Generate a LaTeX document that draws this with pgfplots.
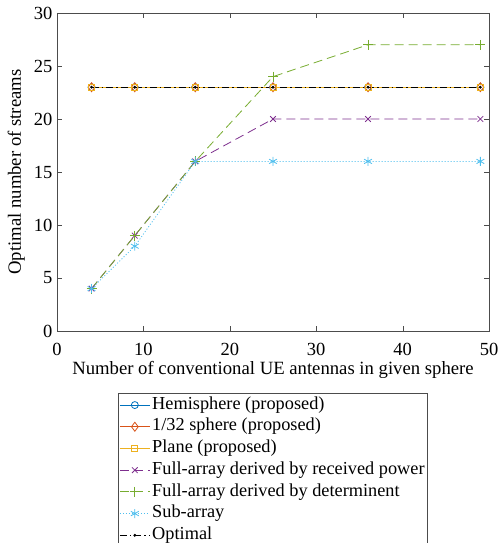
\documentclass[border=0pt]{standalone}
\usepackage{pgfplots}
\pgfplotsset{compat=1.18}
\usepackage{fontspec}
\setmainfont{Liberation Serif}
\definecolor{c1}{HTML}{0072BD}
\definecolor{c2}{HTML}{D95319}
\definecolor{c3}{HTML}{EDB120}
\definecolor{c4}{HTML}{7E2F8E}
\definecolor{c5}{HTML}{77AC30}
\definecolor{c6}{HTML}{4DBEEE}
\begin{document}
\begin{tikzpicture}
\begin{axis}[
  scale only axis, width=432pt, height=318pt,
  xmin=0, xmax=50, ymin=0, ymax=30,
  xtick={0,10,...,50}, ytick={0,5,...,30},
  tick align=inside, tick pos=both,
  major tick length=5pt,
  axis line style={draw=black!70, line width=0.6pt},
  tick style={draw=black!70},
  /pgf/number format/assume math mode=true,
  tick label style={font=\fontsize{18.5}{21}\selectfont},
  xticklabel style={anchor=base, yshift=-24pt},
  yticklabel style={xshift=-1pt},
  label style={font=\fontsize{18.7}{21}\selectfont},
  xlabel={Number of conventional UE antennas in given sphere},
  ylabel={Optimal number of streams},
  xlabel style={at={([yshift=-43pt]axis description cs:0.5,0)}, anchor=base},
  ylabel style={at={([xshift=-36pt]axis description cs:0,0.5)}, anchor=base},
  legend style={at={(0.5,-0.195)}, anchor=north, font=\fontsize{18.3}{20}\selectfont,
    draw=black!70, row sep=0pt, inner xsep=1pt, inner ysep=1pt,
    nodes={text height=12.5pt, text depth=4.2pt, inner ysep=2.5pt},
    cells={anchor=west}},
  legend cell align=left,
  legend image code/.code={
    \draw[mark repeat=2,mark phase=2] plot coordinates {(0pt,0pt) (15pt,0pt) (30pt,0pt)};},
  every axis plot/.append style={line width=0.8pt},
]
\addplot[c1, mark=o, mark size=3.5pt] coordinates {(4,23) (9,23) (16,23) (25,23) (36,23) (49,23)};
\addlegendentry{Hemisphere (proposed)}
\addplot[c2, mark=diamond, mark size=4.5pt] coordinates {(4,23) (9,23) (16,23) (25,23) (36,23) (49,23)};
\addlegendentry{1/32 sphere (proposed)}
\addplot[c3, mark=square, mark size=3pt] coordinates {(4,23) (9,23) (16,23) (25,23) (36,23) (49,23)};
\addlegendentry{Plane (proposed)}
\addplot[c4, dash pattern=on 9pt off 5pt, mark=x, mark size=4pt, mark options={solid}] coordinates {(4,4) (9,9) (16,16) (25,20) (36,20) (49,20)};
\addlegendentry{Full-array derived by received power}
\addplot[c5, dash pattern=on 9pt off 5pt, mark=+, mark size=5pt, mark options={solid}] coordinates {(4,4) (9,9) (16,16) (25,24) (36,27) (49,27)};
\addlegendentry{Full-array derived by determinent}
\addplot[c6, dash pattern=on 1pt off 2pt, mark=asterisk, mark size=4.5pt, mark options={solid}] coordinates {(4,4) (9,8) (16,16) (25,16) (36,16) (49,16)};
\addlegendentry{Sub-array}
\addplot[black, dash pattern=on 7pt off 3pt on 1.5pt off 3pt, mark=*, mark size=1pt, mark options={solid}] coordinates {(4,23) (9,23) (16,23) (25,23) (36,23) (49,23)};
\addlegendentry{Optimal}
\end{axis}
\pgfresetboundingbox
\path ([xshift=-57pt,yshift=13pt]current axis.north west) rectangle ([xshift=11pt,yshift=-212pt]current axis.south east);
\end{tikzpicture}
\end{document}
